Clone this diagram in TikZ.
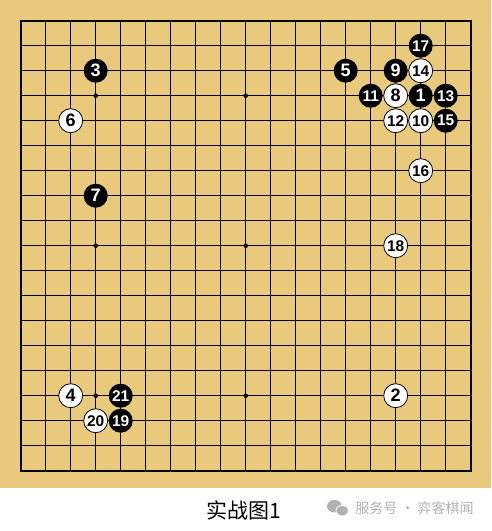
\documentclass[tikz,border=0pt]{standalone}
\usepackage{fontspec}
\setsansfont{Liberation Sans}
\newfontfamily\cjk{Noto Sans CJK SC}
\definecolor{board}{RGB}{233,201,124}
\definecolor{wmgray}{RGB}{178,178,178}
\tikzset{
  stone/.style={circle,minimum size=24pt,inner sep=0pt,font=\sffamily\bfseries\fontsize{18}{18}\selectfont},
  bstone/.style={stone,fill=black,text=white},
  wstone/.style={stone,draw=black,line width=0.8pt,fill=white,text=black},
  twodig/.style={font=\sffamily\bfseries\fontsize{15.5}{15.5}\selectfont},
}
\begin{document}
\begin{tikzpicture}[x=25pt,y=-25pt]
    \useasboundingbox (-0.828,-0.828) rectangle (18.812,20.412);
    \fill[white] (-0.828,-0.828) rectangle (18.812,20.412);
    \fill[board] (-0.828,-0.828) rectangle (18.812,18.704);

    % board lines and star points
    \foreach \k in {1,...,17} {
      \draw[line width=0.8pt] (\k,0) -- (\k,18);
      \draw[line width=0.8pt] (0,\k) -- (18,\k);
    }
    \draw[line width=1.8pt] (0,0) rectangle (18,18);
    \foreach \i in {3,9,15}
      \foreach \j in {3,9,15}
        \fill (\i,\j) circle (2.3pt);

    % stones, by move number
    \node[bstone] (m1) at (16,3) {1};
    \node[wstone] (m2) at (15,15) {2};
    \node[bstone] (m3) at (3,2) {3};
    \node[wstone] (m4) at (2,15) {4};
    \node[bstone] (m5) at (13,2) {5};
    \node[wstone] (m6) at (2,4) {6};
    \node[bstone] (m7) at (3,7) {7};
    \node[wstone] (m8) at (15,3) {8};
    \node[bstone] (m9) at (15,2) {9};
    \node[wstone,twodig] (m10) at (16,4) {10};
    \node[bstone,twodig] (m11) at (14,3) {11};
    \node[wstone,twodig] (m12) at (15,4) {12};
    \node[bstone,twodig] (m13) at (17,3) {13};
    \node[wstone,twodig] (m14) at (16,2) {14};
    \node[bstone,twodig] (m15) at (17,4) {15};
    \node[wstone,twodig] (m16) at (16,6) {16};
    \node[bstone,twodig] (m17) at (16,1) {17};
    \node[wstone,twodig] (m18) at (15,9) {18};
    \node[bstone,twodig] (m19) at (4,16) {19};
    \node[wstone,twodig] (m20) at (3,16) {20};
    \node[bstone,twodig] (m21) at (4,15) {21};

    % caption
    \node[font=\cjk\fontsize{21}{21}\selectfont] (title) at (8.91,19.57) {实战图1};
    \fill[wmgray] (12.55,19.42) ellipse (0.3 and 0.25);
    \fill[wmgray,draw=white,line width=0.8pt] (12.86,19.6) ellipse (0.25 and 0.21);
    \node[font=\cjk\fontsize{14}{14}\selectfont,text=wmgray,anchor=west] (wm) at (13.25,19.5) {服务号 · 弈客棋闻};
\end{tikzpicture}
\end{document}
